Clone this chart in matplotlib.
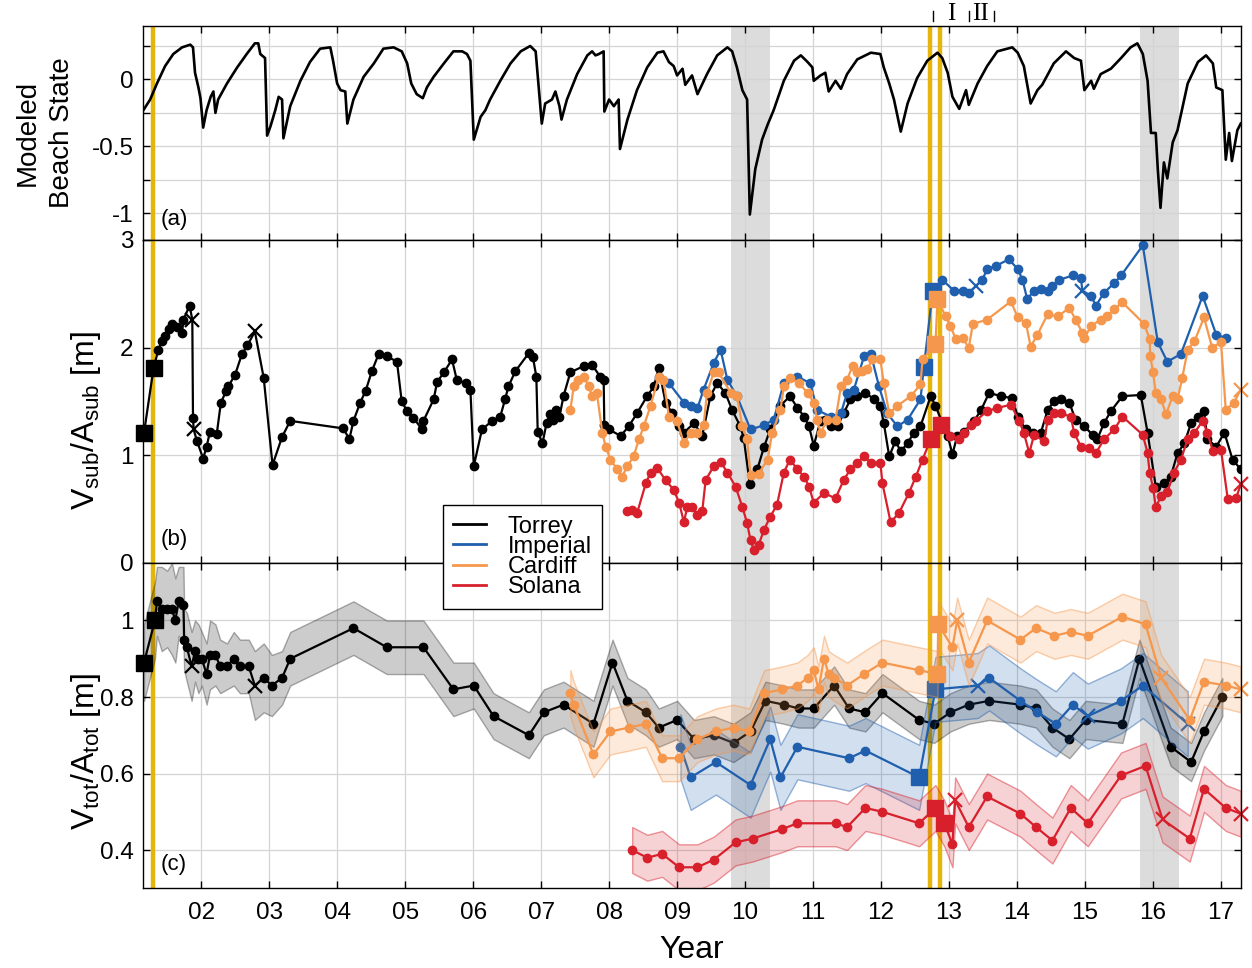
import matplotlib.pyplot as plt
import numpy as np
from matplotlib.colors import to_rgba
from matplotlib.lines import Line2D
from matplotlib.transforms import blended_transform_factory

plt.rcParams['font.family'] = ['Liberation Sans', 'DejaVu Sans']
plt.rcParams['mathtext.fontset'] = 'custom'
plt.rcParams['mathtext.rm'] = 'Liberation Sans'
plt.rcParams['mathtext.it'] = 'Liberation Sans:italic'

# time is in years since 2000 (tick "02" = 2002)
years = list(range(2, 18))
year_labels = ['%02d' % y for y in years]

storm_spans = [(9.80, 10.37), (15.81, 16.38)]
survey_lines = [1.29, 12.72, 12.87]
event_marks = [12.76, 13.29, 13.66]
event_label_t = [13.03, 13.46]
event_labels = ['I', 'II']

# (a) modeled beach state
state_t = [1.15, 1.25, 1.35, 1.47, 1.59, 1.72, 1.84, 1.88, 1.91, 1.96,
           1.99, 2.03, 2.08, 2.14, 2.18, 2.21, 2.25, 2.38, 2.53, 2.67,
           2.79, 2.84, 2.87, 2.94, 2.97, 3.02, 3.09, 3.14, 3.19, 3.21,
           3.31, 3.46, 3.60, 3.75, 3.90, 3.94, 4.00, 4.05, 4.12, 4.15,
           4.24, 4.39, 4.54, 4.68, 4.83, 4.95, 5.03, 5.09, 5.17, 5.26,
           5.32, 5.42, 5.57, 5.71, 5.84, 5.91, 5.96, 6.01, 6.11, 6.18,
           6.25, 6.40, 6.55, 6.70, 6.84, 6.92, 6.96, 7.01, 7.06, 7.16,
           7.21, 7.27, 7.30, 7.38, 7.53, 7.68, 7.75, 7.80, 7.85, 7.92,
           7.93, 8.00, 8.07, 8.14, 8.16, 8.27, 8.41, 8.56, 8.71, 8.80,
           8.88, 8.95, 9.00, 9.08, 9.12, 9.22, 9.30, 9.44, 9.59, 9.74,
           9.81, 9.88, 9.96, 10.03, 10.07, 10.15, 10.25, 10.33, 10.42, 10.57,
           10.72, 10.82, 10.92, 10.99, 11.01, 11.11, 11.18, 11.23, 11.33, 11.41,
           11.50, 11.65, 11.85, 11.99, 12.04, 12.12, 12.19, 12.29, 12.39, 12.53,
           12.68, 12.83, 12.90, 12.98, 13.05, 13.15, 13.25, 13.29, 13.42, 13.56,
           13.71, 13.86, 13.93, 14.01, 14.10, 14.20, 14.30, 14.37, 14.54, 14.72,
           14.84, 14.94, 14.99, 15.09, 15.13, 15.23, 15.38, 15.53, 15.67, 15.77,
           15.85, 15.92, 15.97, 16.04, 16.07, 16.11, 16.16, 16.21, 16.29, 16.36,
           16.51, 16.66, 16.78, 16.88, 16.93, 17.02, 17.07, 17.12, 17.16, 17.24,
           17.29]
state_v = [-0.23, -0.15, -0.03, 0.10, 0.19, 0.24, 0.26, 0.24, 0.05, -0.06,
           -0.14, -0.36, -0.23, -0.13, -0.09, -0.25, -0.15, -0.03, 0.09, 0.19,
           0.27, 0.27, 0.19, 0.16, -0.42, -0.35, -0.23, -0.13, -0.15, -0.44,
           -0.20, -0.01, 0.13, 0.23, 0.24, 0.14, -0.03, -0.08, -0.09, -0.33,
           -0.15, 0.02, 0.12, 0.23, 0.24, 0.21, 0.12, -0.03, -0.11, -0.14,
           -0.06, 0.02, 0.12, 0.21, 0.21, 0.19, 0.14, -0.45, -0.28, -0.23,
           -0.15, -0.01, 0.12, 0.21, 0.25, 0.21, -0.03, -0.33, -0.18, -0.15,
           -0.09, -0.20, -0.30, -0.15, 0.04, 0.18, 0.21, 0.18, 0.19, 0.21,
           -0.24, -0.15, -0.20, -0.15, -0.52, -0.30, -0.08, 0.09, 0.20, 0.21,
           0.13, 0.10, 0.03, 0.08, -0.04, 0.03, -0.11, 0.04, 0.18, 0.24,
           0.21, 0.09, -0.08, -0.15, -1.01, -0.67, -0.45, -0.34, -0.23, -0.01,
           0.14, 0.18, 0.13, 0.09, -0.01, 0.03, 0.05, -0.09, -0.01, -0.07,
           0.04, 0.15, 0.20, 0.19, 0.09, -0.03, -0.15, -0.39, -0.18, 0.01,
           0.14, 0.20, 0.16, 0.05, -0.13, -0.22, -0.08, -0.19, -0.03, 0.10,
           0.21, 0.23, 0.24, 0.20, 0.10, -0.18, -0.08, -0.04, 0.12, 0.21,
           0.16, 0.14, -0.08, -0.01, -0.07, 0.04, 0.08, 0.16, 0.24, 0.27,
           0.19, -0.01, -0.40, -0.40, -0.67, -0.96, -0.62, -0.74, -0.47, -0.38,
           -0.03, 0.13, 0.18, 0.12, -0.06, -0.08, -0.60, -0.40, -0.61, -0.38,
           -0.33]

# (b) subaerial volume / area
torrey_b_t = [1.16, 1.30, 1.37, 1.42, 1.47, 1.52, 1.57, 1.64, 1.72, 1.74,
              1.83, 1.87, 1.88, 1.89, 1.94, 2.03, 2.08, 2.13, 2.23, 2.29,
              2.37, 2.40, 2.50, 2.60, 2.68, 2.79, 2.92, 3.05, 3.19, 3.31,
              4.09, 4.18, 4.24, 4.34, 4.42, 4.51, 4.61, 4.73, 4.88, 4.95,
              5.03, 5.12, 5.25, 5.27, 5.42, 5.47, 5.57, 5.69, 5.76, 5.89,
              5.96, 6.01, 6.13, 6.28, 6.40, 6.47, 6.52, 6.62, 6.82, 6.88,
              6.93, 6.95, 7.02, 7.08, 7.13, 7.18, 7.22, 7.27, 7.33, 7.43,
              7.63, 7.75, 7.87, 7.92, 7.93, 8.00, 8.17, 8.29, 8.41, 8.56,
              8.66, 8.73, 8.83, 8.93, 9.03, 9.10, 9.25, 9.37, 9.49, 9.59,
              9.71, 9.81, 9.93, 9.98, 10.07, 10.18, 10.28, 10.37, 10.52, 10.66,
              10.77, 10.87, 10.94, 11.01, 11.11, 11.18, 11.26, 11.36, 11.45, 11.55,
              11.65, 11.77, 11.90, 11.99, 12.04, 12.12, 12.21, 12.29, 12.39, 12.48,
              12.58, 12.73, 12.80, 12.98, 13.05, 13.12, 13.22, 13.37, 13.47, 13.59,
              13.76, 13.93, 14.01, 14.13, 14.23, 14.35, 14.45, 14.54, 14.64, 14.77,
              14.86, 14.99, 15.11, 15.18, 15.28, 15.38, 15.55, 15.82, 15.92, 16.04,
              16.16, 16.26, 16.36, 16.46, 16.56, 16.66, 16.75, 16.80, 16.93, 17.05,
              17.17, 17.29]
torrey_b_v = [1.21, 1.81, 1.98, 2.06, 2.11, 2.17, 2.22, 2.19, 2.14, 2.26,
              2.39, 2.26, 1.35, 1.24, 1.13, 0.97, 1.08, 1.22, 1.20, 1.49,
              1.60, 1.64, 1.75, 1.94, 2.02, 2.15, 1.72, 0.91, 1.17, 1.32,
              1.25, 1.15, 1.32, 1.49, 1.60, 1.78, 1.94, 1.92, 1.87, 1.50,
              1.41, 1.35, 1.24, 1.32, 1.52, 1.68, 1.77, 1.89, 1.70, 1.67,
              1.61, 0.90, 1.24, 1.32, 1.36, 1.52, 1.64, 1.78, 1.95, 1.91,
              1.73, 1.22, 1.11, 1.30, 1.38, 1.33, 1.42, 1.36, 1.55, 1.77,
              1.83, 1.84, 1.73, 1.70, 1.28, 1.24, 1.18, 1.27, 1.39, 1.55,
              1.64, 1.81, 1.49, 1.39, 1.27, 1.21, 1.30, 1.18, 1.55, 1.67,
              1.58, 1.42, 1.27, 1.16, 0.73, 0.87, 1.08, 1.24, 1.46, 1.55,
              1.44, 1.36, 1.27, 1.09, 1.32, 1.33, 1.27, 1.27, 1.39, 1.52,
              1.55, 1.58, 1.52, 1.46, 1.30, 0.99, 1.13, 1.04, 1.11, 1.21,
              1.27, 1.55, 1.46, 1.18, 1.01, 1.18, 1.22, 1.32, 1.42, 1.58,
              1.55, 1.53, 1.36, 1.24, 1.21, 1.21, 1.42, 1.50, 1.52, 1.49,
              1.33, 1.27, 1.19, 1.15, 1.30, 1.41, 1.55, 1.56, 1.21, 0.71,
              0.74, 0.80, 1.02, 1.11, 1.30, 1.36, 1.41, 1.15, 1.08, 1.21,
              0.96, 0.87]
torrey_b_sq = [0, 1]
torrey_b_x = [11, 13, 25]

imperial_b_t = [8.73, 8.88, 9.10, 9.20, 9.30, 9.39, 9.54, 9.64, 9.74, 9.88,
                10.08, 10.28, 10.42, 10.57, 10.77, 10.96, 11.06, 11.26, 11.41, 11.50,
                11.60, 11.75, 11.85, 11.97, 12.09, 12.24, 12.39, 12.58, 12.63, 12.76,
                12.90, 13.07, 13.20, 13.29, 13.39, 13.49, 13.56, 13.69, 13.88, 14.01,
                14.08, 14.15, 14.25, 14.35, 14.45, 14.52, 14.62, 14.82, 14.94, 14.96,
                15.09, 15.16, 15.28, 15.43, 15.53, 15.85, 16.07, 16.21, 16.41, 16.73,
                16.93, 17.07]
imperial_b_v = [1.73, 1.67, 1.49, 1.46, 1.44, 1.61, 1.86, 1.98, 1.70, 1.55,
                1.24, 1.28, 1.33, 1.67, 1.73, 1.67, 1.42, 1.36, 1.39, 1.58,
                1.61, 1.92, 1.94, 1.64, 1.39, 1.27, 1.33, 1.52, 1.82, 2.53,
                2.63, 2.53, 2.53, 2.51, 2.57, 2.63, 2.73, 2.76, 2.82, 2.73,
                2.63, 2.45, 2.53, 2.54, 2.53, 2.57, 2.63, 2.67, 2.65, 2.53,
                2.48, 2.39, 2.51, 2.60, 2.67, 2.95, 2.05, 1.87, 1.94, 2.48,
                2.12, 2.09]
imperial_b_sq = [28, 29]
imperial_b_x = [34, 49]

cardiff_b_t = [7.43, 7.48, 7.55, 7.63, 7.70, 7.75, 7.82, 7.90, 7.95, 8.02,
               8.12, 8.19, 8.27, 8.36, 8.44, 8.51, 8.61, 8.73, 8.80, 8.88,
               9.00, 9.10, 9.20, 9.30, 9.39, 9.44, 9.54, 9.61, 9.79, 9.88,
               9.96, 10.03, 10.08, 10.20, 10.33, 10.40, 10.52, 10.57, 10.66, 10.79,
               10.92, 11.01, 11.06, 11.11, 11.21, 11.33, 11.41, 11.50, 11.58, 11.65,
               11.72, 11.80, 11.87, 11.99, 12.04, 12.12, 12.24, 12.44, 12.58, 12.61,
               12.80, 12.83, 12.95, 13.02, 13.10, 13.20, 13.29, 13.35, 13.56, 13.91,
               14.01, 14.13, 14.20, 14.30, 14.45, 14.60, 14.77, 14.86, 14.96, 14.99,
               15.09, 15.23, 15.33, 15.43, 15.55, 15.87, 15.95, 15.96, 16.00, 16.04,
               16.12, 16.19, 16.29, 16.36, 16.43, 16.51, 16.61, 16.75, 16.87, 17.00,
               17.07, 17.19, 17.29]
cardiff_b_v = [1.42, 1.64, 1.70, 1.73, 1.64, 1.55, 1.58, 1.21, 1.08, 0.96,
               0.87, 0.80, 0.90, 0.99, 1.15, 1.27, 1.46, 1.73, 1.70, 1.36,
               1.32, 1.11, 1.21, 1.21, 1.28, 1.58, 1.77, 1.77, 1.58, 1.55,
               1.27, 1.15, 0.82, 0.83, 0.96, 1.21, 1.42, 1.64, 1.72, 1.67,
               1.58, 1.49, 1.33, 1.21, 1.33, 1.33, 1.64, 1.70, 1.83, 1.77,
               1.78, 1.80, 1.89, 1.89, 1.67, 1.39, 1.46, 1.55, 1.66, 1.89,
               2.03, 2.45, 2.29, 2.20, 2.08, 2.09, 2.00, 2.22, 2.26, 2.43,
               2.28, 2.23, 2.01, 2.12, 2.31, 2.29, 2.37, 2.26, 2.14, 2.09,
               2.20, 2.26, 2.29, 2.36, 2.42, 2.22, 2.08, 1.92, 1.77, 1.58,
               1.52, 1.38, 1.55, 1.52, 1.72, 1.98, 2.06, 2.28, 2.00, 2.05,
               1.42, 1.49, 1.61]
cardiff_b_sq = [60, 61]
cardiff_b_x = [102]

solana_b_t = [8.27, 8.34, 8.41, 8.54, 8.61, 8.71, 8.83, 8.95, 9.03, 9.10,
              9.15, 9.22, 9.30, 9.37, 9.42, 9.54, 9.64, 9.74, 9.86, 9.96,
              10.03, 10.08, 10.13, 10.20, 10.28, 10.37, 10.47, 10.57, 10.66, 10.77,
              10.87, 10.94, 11.01, 11.16, 11.33, 11.45, 11.55, 11.65, 11.75, 11.85,
              11.99, 12.02, 12.14, 12.26, 12.41, 12.51, 12.61, 12.73, 12.88, 13.02,
              13.15, 13.22, 13.32, 13.39, 13.56, 13.71, 13.91, 14.03, 14.10, 14.18,
              14.25, 14.40, 14.45, 14.54, 14.64, 14.79, 14.84, 14.94, 15.06, 15.16,
              15.28, 15.43, 15.55, 15.85, 15.92, 15.95, 16.00, 16.04, 16.12, 16.21,
              16.31, 16.41, 16.51, 16.61, 16.73, 16.80, 16.88, 17.00, 17.10, 17.22,
              17.29]
solana_b_v = [0.48, 0.49, 0.46, 0.74, 0.84, 0.88, 0.77, 0.68, 0.56, 0.38,
              0.52, 0.52, 0.45, 0.48, 0.77, 0.90, 0.94, 0.84, 0.71, 0.52,
              0.37, 0.21, 0.12, 0.17, 0.31, 0.43, 0.54, 0.84, 0.96, 0.87,
              0.80, 0.71, 0.56, 0.65, 0.60, 0.77, 0.87, 0.93, 0.99, 0.93,
              0.93, 0.74, 0.38, 0.46, 0.65, 0.80, 0.96, 1.15, 1.28, 1.18,
              1.15, 1.21, 1.28, 1.32, 1.41, 1.44, 1.47, 1.32, 1.21, 1.02,
              1.19, 1.13, 1.33, 1.39, 1.39, 1.36, 1.21, 1.08, 1.07, 1.02,
              1.15, 1.24, 1.36, 1.19, 1.02, 0.84, 0.70, 0.52, 0.62, 0.66,
              0.84, 0.96, 1.15, 1.21, 1.32, 1.21, 1.04, 1.05, 0.59, 0.60,
              0.73]
solana_b_sq = [47, 48]
solana_b_x = [90]

# (c) total volume / area, with uncertainty half-widths
torrey_c_t = [1.16, 1.32, 1.35, 1.42, 1.50, 1.57, 1.62, 1.67, 1.74, 1.75,
              1.79, 1.86, 1.91, 1.96, 2.01, 2.08, 2.13, 2.21, 2.28, 2.38,
              2.48, 2.57, 2.70, 2.79, 2.92, 3.04, 3.19, 3.31, 4.24, 4.73,
              5.27, 5.71, 6.01, 6.30, 6.82, 7.04, 7.33, 7.77, 8.05, 8.27,
              8.54, 8.73, 9.00, 9.25, 9.54, 9.83, 10.08, 10.30, 10.57, 10.79,
              11.01, 11.31, 11.53, 11.77, 12.02, 12.56, 12.78, 13.02, 13.29, 13.59,
              14.05, 14.28, 14.52, 14.77, 15.01, 15.55, 15.80, 16.26, 16.56, 16.75,
              17.02]
torrey_c_v = [0.89, 1.00, 1.05, 1.03, 1.03, 1.03, 1.00, 1.05, 1.04, 0.95,
              0.93, 0.88, 0.92, 0.90, 0.90, 0.86, 0.91, 0.91, 0.88, 0.88,
              0.90, 0.88, 0.88, 0.83, 0.85, 0.83, 0.85, 0.90, 0.98, 0.93,
              0.93, 0.82, 0.83, 0.75, 0.70, 0.76, 0.78, 0.73, 0.89, 0.79,
              0.76, 0.72, 0.74, 0.69, 0.70, 0.68, 0.71, 0.79, 0.78, 0.77,
              0.77, 0.83, 0.77, 0.76, 0.81, 0.74, 0.73, 0.76, 0.78, 0.79,
              0.78, 0.77, 0.72, 0.69, 0.74, 0.73, 0.90, 0.67, 0.63, 0.71,
              0.80]
torrey_c_err = [0.10, 0.10, 0.09, 0.11, 0.10, 0.12, 0.11, 0.09, 0.10, 0.08,
                0.09, 0.09, 0.08, 0.09, 0.07, 0.08, 0.09, 0.08, 0.07, 0.06,
                0.07, 0.07, 0.07, 0.09, 0.09, 0.08, 0.07, 0.07, 0.07, 0.07,
                0.07, 0.07, 0.06, 0.06, 0.06, 0.06, 0.06, 0.06, 0.06, 0.06,
                0.06, 0.05, 0.05, 0.05, 0.05, 0.05, 0.05, 0.05, 0.05, 0.05,
                0.05, 0.05, 0.05, 0.05, 0.05, 0.05, 0.05, 0.05, 0.05, 0.05,
                0.05, 0.05, 0.05, 0.05, 0.05, 0.05, 0.05, 0.05, 0.05, 0.05,
                0.05]
torrey_c_sq = [0, 1]
torrey_c_x = [11, 23]

imperial_c_t = [9.05, 9.20, 9.57, 10.08, 10.37, 10.52, 10.77, 11.53, 11.77, 12.56,
                12.80, 13.42, 13.59, 14.05, 14.30, 14.57, 14.82, 15.04, 15.53, 15.85,
                16.51]
imperial_c_v = [0.67, 0.59, 0.63, 0.57, 0.69, 0.59, 0.67, 0.64, 0.66, 0.59,
                0.82, 0.83, 0.85, 0.79, 0.76, 0.73, 0.78, 0.75, 0.79, 0.83,
                0.73]
imperial_c_err = 0.085
imperial_c_sq = [9, 10]
imperial_c_x = [11, 17, 20]

cardiff_c_t = [7.43, 7.48, 7.77, 8.02, 8.29, 8.54, 8.78, 9.03, 9.30, 9.57,
               9.83, 10.06, 10.28, 10.55, 10.77, 10.92, 11.01, 11.08, 11.16, 11.23,
               11.31, 11.50, 11.75, 12.02, 12.56, 12.83, 12.84, 13.05, 13.12, 13.29,
               13.56, 14.05, 14.28, 14.55, 14.79, 15.04, 15.55, 15.89, 16.12, 16.54,
               16.75, 17.07, 17.29]
cardiff_c_v = [0.81, 0.78, 0.65, 0.71, 0.72, 0.73, 0.64, 0.64, 0.69, 0.71,
               0.72, 0.71, 0.81, 0.82, 0.83, 0.85, 0.87, 0.82, 0.90, 0.86,
               0.85, 0.83, 0.86, 0.89, 0.87, 0.86, 0.99, 0.93, 1.00, 0.89,
               1.00, 0.95, 0.98, 0.96, 0.97, 0.96, 1.01, 0.99, 0.85, 0.74,
               0.84, 0.83, 0.82]
cardiff_c_err = 0.06
cardiff_c_sq = [25, 26]
cardiff_c_x = [28, 38, 42]

solana_c_t = [8.34, 8.56, 8.78, 9.03, 9.30, 9.54, 9.86, 10.11, 10.55, 10.77,
              11.33, 11.50, 11.77, 12.02, 12.56, 12.80, 12.93, 13.05, 13.09, 13.29,
              13.56, 14.05, 14.28, 14.52, 14.79, 15.04, 15.53, 15.89, 16.14, 16.54,
              16.75, 17.07, 17.29]
solana_c_v = [0.40, 0.38, 0.39, 0.355, 0.355, 0.375, 0.42, 0.43, 0.455, 0.47,
              0.47, 0.46, 0.51, 0.50, 0.47, 0.51, 0.47, 0.415, 0.53, 0.46,
              0.54, 0.495, 0.46, 0.425, 0.51, 0.47, 0.595, 0.62, 0.48, 0.43,
              0.56, 0.51, 0.495]
solana_c_err = 0.06
solana_c_sq = [15, 16]
solana_c_x = [18, 28, 32]

site_names = ['Torrey', 'Imperial', 'Cardiff', 'Solana']
site_colors = ['black', '#1f5fad', '#f5974c', '#d7202b']


def draw_site(ax, t, v, color, sq, xs, z, err=None):
    t = np.array(t)
    v = np.array(v)
    if err is not None:
        band_face = to_rgba(color, 0.2)
        band_edge = to_rgba(color, 0.3 if color == 'black' else 0.45)
        ax.fill_between(t, v - np.array(err), v + np.array(err), facecolor=band_face,
                        edgecolor=band_edge, lw=1.0, zorder=z)
    plain = [i for i in range(len(t)) if i not in sq and i not in xs]
    ax.plot(t, v, '-', color=color, lw=1.6, zorder=z + 0.01)
    ax.plot(t[plain], v[plain], 'o', color=color, ms=6, zorder=z + 0.02)
    ax.plot(t[sq], v[sq], 's', color=color, ms=11, zorder=z + 0.03, clip_on=False)
    ax.plot(t[xs], v[xs], 'x', color=color, ms=10, mew=1.6, zorder=z + 0.03, clip_on=False)


fig = plt.figure(figsize=(12.52, 9.68), dpi=100)
L, W = 0.1145, 0.8765
ax_a = fig.add_axes([L, 0.7521, W, 0.2211])
ax_b = fig.add_axes([L, 0.4184, W, 0.3337])
ax_c = fig.add_axes([L, 0.0823, W, 0.3360])

for ax in (ax_a, ax_b, ax_c):
    for s0, s1 in storm_spans:
        ax.axvspan(s0, s1, color='#dcdcdc', lw=0, zorder=0.2)
    for xl in survey_lines:
        ax.axvline(xl, color='#e5b50b', lw=3.2, zorder=1)
    ax.set_xlim(1.15, 17.29)
    ax.set_xticks(years)
    ax.grid(True, color='#d4d4d4', lw=0.9)
    ax.set_axisbelow(True)
    ax.tick_params(direction='in', top=True, right=True, length=5, width=1,
                   labelsize=17.5, pad=7)
    for sp in ax.spines.values():
        sp.set_linewidth(1.0)

# panel (a)
ax_a.plot(state_t, state_v, color='black', lw=1.9, zorder=3)
ax_a.set_ylim(-1.2, 0.4)
ax_a.set_yticks([-1, -0.75, -0.5, -0.25, 0, 0.25])
ax_a.set_yticklabels(['-1', '', '-0.5', '', '0', ''])
ax_a.set_xticklabels([])
ax_a.set_ylabel('Modeled\nBeach State', fontsize=20, linespacing=1.45)
ax_a.yaxis.set_label_coords(-0.062, 0.5)
ax_a.text(0.016, 0.045, '(a)', transform=ax_a.transAxes, fontsize=16, va='bottom')

trans = blended_transform_factory(ax_a.transData, ax_a.transAxes)
for xb in event_marks:
    ax_a.plot([xb, xb], [1.025, 1.07], color='black', lw=1, transform=trans, clip_on=False)
for xt, lab in zip(event_label_t, event_labels):
    ax_a.text(xt, 1.055, lab, transform=trans, family='Liberation Serif', fontsize=18,
              ha='center', va='center')

# panel (b)
b_series = [(torrey_b_t, torrey_b_v, torrey_b_sq, torrey_b_x),
            (imperial_b_t, imperial_b_v, imperial_b_sq, imperial_b_x),
            (cardiff_b_t, cardiff_b_v, cardiff_b_sq, cardiff_b_x),
            (solana_b_t, solana_b_v, solana_b_sq, solana_b_x)]
for k, (t, v, sq, xs) in enumerate(b_series):
    draw_site(ax_b, t, v, site_colors[k], sq, xs, 2 + k * 0.1)
ax_b.set_ylim(0, 3)
ax_b.set_yticks([0, 1, 2, 3])
ax_b.set_xticklabels([])
ax_b.set_ylabel(r'V$_{\mathrm{sub}}$/A$_{\mathrm{sub}}$ [m]', fontsize=23)
ax_b.yaxis.set_label_coords(-0.037, 0.44)
ax_b.text(0.016, 0.04, '(b)', transform=ax_b.transAxes, fontsize=16, va='bottom')

# panel (c)
c_series = [(torrey_c_t, torrey_c_v, torrey_c_sq, torrey_c_x, torrey_c_err),
            (imperial_c_t, imperial_c_v, imperial_c_sq, imperial_c_x, imperial_c_err),
            (cardiff_c_t, cardiff_c_v, cardiff_c_sq, cardiff_c_x, cardiff_c_err),
            (solana_c_t, solana_c_v, solana_c_sq, solana_c_x, solana_c_err)]
for k, (t, v, sq, xs, err) in enumerate(c_series):
    draw_site(ax_c, t, v, site_colors[k], sq, xs, 2 + k * 0.1, err=err)
ax_c.set_ylim(0.3, 1.15)
ax_c.set_yticks([0.4, 0.6, 0.8, 1.0])
ax_c.set_yticklabels(['0.4', '0.6', '0.8', '1'])
ax_c.set_xticklabels(year_labels)
ax_c.tick_params(axis='x', pad=10)
ax_c.set_ylabel(r'V$_{\mathrm{tot}}$/A$_{\mathrm{tot}}$ [m]', fontsize=23)
ax_c.yaxis.set_label_coords(-0.037, 0.42)
ax_c.set_xlabel('Year', fontsize=23, labelpad=8)
ax_c.text(0.016, 0.04, '(c)', transform=ax_c.transAxes, fontsize=16, va='bottom')

handles = [Line2D([], [], color=c, lw=2) for c in site_colors]
leg = fig.legend(handles, site_names, loc='upper left',
                 bbox_to_anchor=(442.7 / 1252, 1 - 505 / 968), fontsize=17,
                 frameon=True, fancybox=False, edgecolor='black', framealpha=1,
                 handlelength=1.4, handletextpad=0.9, labelspacing=-0.08,
                 borderpad=0.45, borderaxespad=0)
leg.get_frame().set_linewidth(1.0)

fig.savefig('out.png', dpi=100)
